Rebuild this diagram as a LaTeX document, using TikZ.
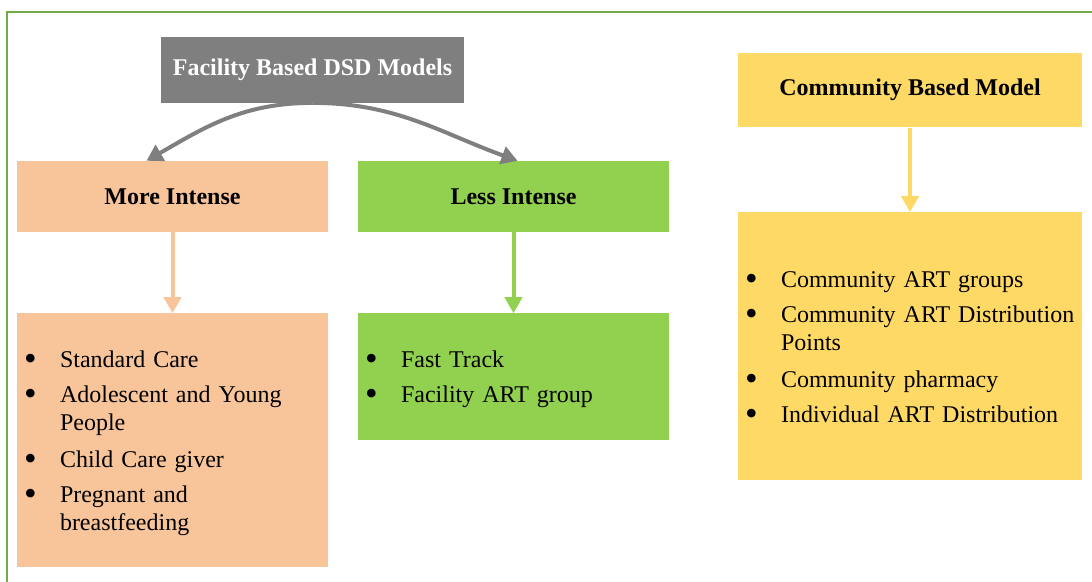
\documentclass[tikz,border=0pt]{standalone}
\usepackage{fontspec}
\setmainfont{Liberation Serif}
\usetikzlibrary{arrows.meta,positioning}
\definecolor{boxgray}{HTML}{7F7F7F}
\definecolor{boxorange}{HTML}{F8C59B}
\definecolor{boxgreen}{HTML}{92D050}
\definecolor{boxyellow}{HTML}{FFD966}
\definecolor{framegreen}{HTML}{70AD47}
\newcommand{\bitem}[1]{\noindent\makebox[36pt][l]{\raisebox{-3pt}{\fontsize{36}{28}\selectfont\textbullet}}%
    \parbox[t]{\dimexpr\linewidth-36pt\relax}{\raggedright\strut#1\strut}\par}

\begin{document}
\begin{tikzpicture}[
            x=1pt, y=-1pt,
            head/.style={fill, inner sep=0pt, font=\fontsize{24}{28}\selectfont\bfseries, align=center},
            panel/.style={fill, inner sep=0pt, minimum height=#1},
            items/.style={inner sep=0pt, anchor=north west, text width=#1,
                font=\fontsize{24}{28}\selectfont, execute at begin node={\setlength{\parskip}{7.5pt}}},
            link/.style={line width=4pt, -{Triangle[width=17pt,length=16pt]}},
            curve/.style={line width=4pt, draw=boxgray, -{Triangle[width=18pt,length=16pt]}}
        ]
        \useasboundingbox (0,0) rectangle (1092,581);
        \draw[framegreen, line width=2pt] (7,11.5) rectangle (1110,600);

        % top row
        \node[head, fill=boxgray, text=white, minimum width=303pt, minimum height=65.7pt] (facility) at (312.5,69.85) {Facility Based DSD Models};
        \node[head, fill=boxorange, minimum width=311pt, minimum height=70.7pt] (more) at (172.5,196.35) {More Intense};
        \node[head, fill=boxgreen, minimum width=311pt, minimum height=70.7pt] (less) at (513.5,196.35) {Less Intense};
        \node[head, fill=boxyellow, minimum width=344pt, minimum height=74.6pt] (community) at (910,90) {Community Based Model};

        % list boxes
        \node[panel=253.7pt, fill=boxorange, minimum width=311pt, below=81.3pt of more] (morelist) {};
        \node[panel=127pt, fill=boxgreen, minimum width=311pt, below=81.3pt of less] (lesslist) {};
        \node[panel=267.3pt, fill=boxyellow, minimum width=344pt, below=84.7pt of community] (commlist) {};

        \node[items=300pt] (moreitems) at ([shift={(7pt,-34.4pt)}]morelist.north west) {%
            \bitem{Standard Care}
            \bitem{Adolescent and Young\\People}
            \bitem{Child Care giver}
            \bitem{Pregnant and\\breastfeeding}};
        \node[items=300pt] (lessitems) at ([shift={(7pt,-34.4pt)}]lesslist.north west) {%
            \bitem{Fast Track}
            \bitem{Facility ART group}};
        \node[items=360pt] (commitems) at ([shift={(7pt,-55.4pt)}]commlist.north west) {%
            \bitem{Community ART groups}
            \bitem{Community ART Distribution\\Points}
            \bitem{Community pharmacy}
            \bitem{Individual ART Distribution}};

        % connectors
        \draw[curve] (facility.south) to[out=180, in=30] ([xshift=-26pt]more.north);
        \draw[curve] (facility.south) to[out=0, in=160] ([xshift=4pt]less.north);
        \draw[link, boxorange] (more) -- (morelist);
        \draw[link, boxgreen] (less) -- (lesslist);
        \draw[link, boxyellow] (community) -- (commlist);
    \end{tikzpicture}
\end{document}
